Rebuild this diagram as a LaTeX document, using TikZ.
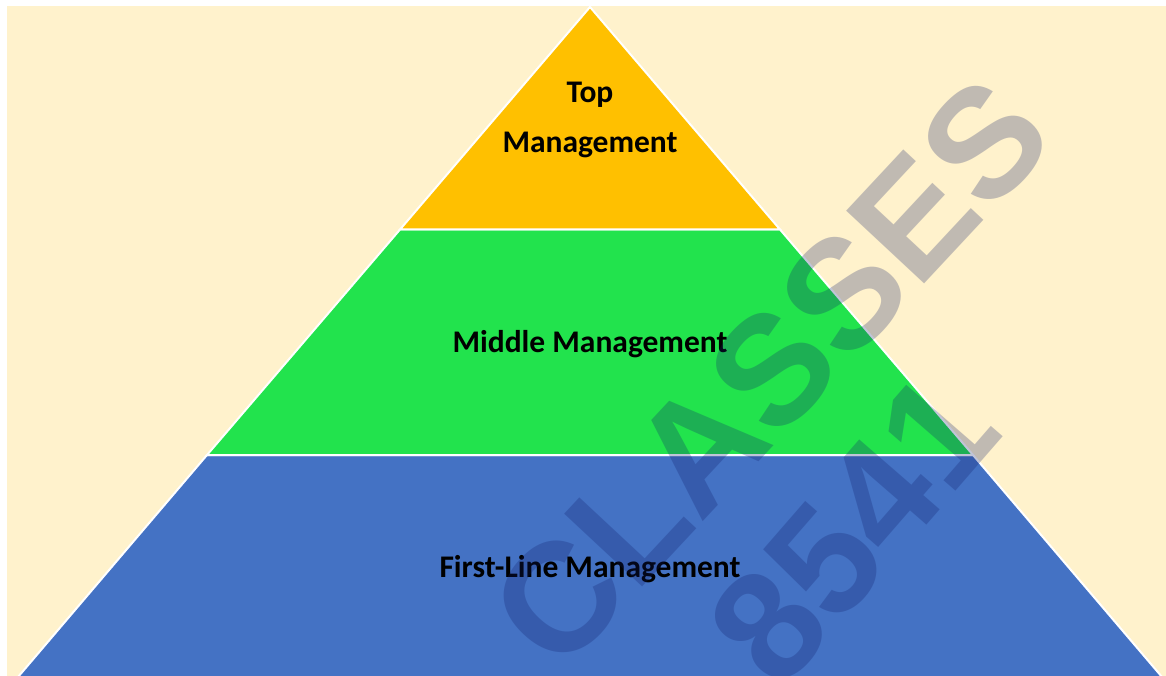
\documentclass[tikz,border=0pt]{standalone}
\usepackage{fontspec}
\setmainfont{Carlito}
\newfontfamily\wmfont{Liberation Sans}
\definecolor{cream}{RGB}{255,242,204}
\definecolor{topc}{RGB}{255,192,0}
\definecolor{midc}{RGB}{34,227,77}
\definecolor{lowc}{RGB}{68,114,196}
\definecolor{wmc}{RGB}{15,28,105}
\begin{document}
\begin{tikzpicture}[x=1pt,y=-1pt,
  tier/.style={draw=white,line width=2pt,line join=miter},
  lbl/.style={font=\fontsize{31.5}{50}\selectfont\bfseries,text=black,align=center,inner sep=0pt},
  wm/.style={font=\wmfont\bfseries\fontsize{155}{160}\selectfont,text=wmc,text opacity=0.26,inner sep=0pt,rotate=47}]
\useasboundingbox (0,0) rectangle (1166,676);
\fill[white] (0,0) rectangle (1166,676);
\fill[cream] (7,6) rectangle (1166,676);
% pyramid corners
\coordinate (apex) at (590,7);
\coordinate (tl) at (400,229.5);
\coordinate (tr) at (780,229.5);
\coordinate (ml) at (207,455);
\coordinate (mr) at (973,455);
\coordinate (bl) at (18,677);
\coordinate (br) at (1162,677);
\filldraw[tier,fill=lowc] (ml) -- (mr) -- (br) -- (bl) -- cycle;
\filldraw[tier,fill=midc] (tl) -- (tr) -- (mr) -- (ml) -- cycle;
\filldraw[tier,fill=topc] (apex) -- (tr) -- (tl) -- cycle;
\node[lbl] (top) at (590,120) {Top\\Management};
\node[lbl] (mid) at (590,344) {Middle Management};
\node[lbl] (low) at (590,569) {First-Line Management};
% watermark
\node[wm] (wm1) at (770,372) {CLASSES};
\node[wm,rotate=2] (wm2) at (853,528) {8541};
\end{tikzpicture}
\end{document}
